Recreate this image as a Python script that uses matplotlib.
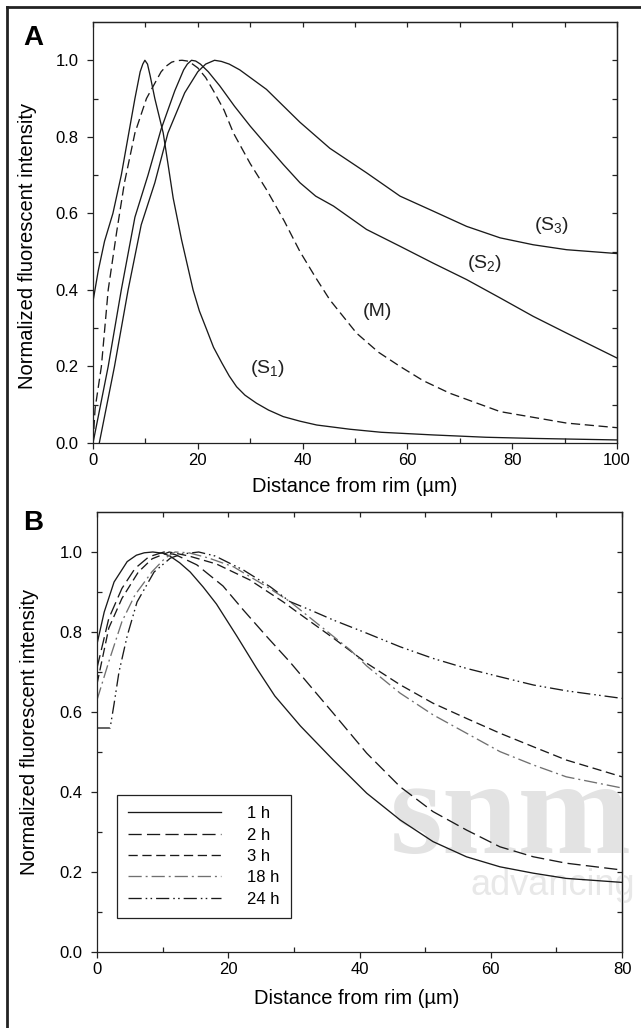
import matplotlib
matplotlib.use('Agg')
import matplotlib.pyplot as plt
from matplotlib.ticker import MultipleLocator, FixedLocator, FormatStrFormatter
from matplotlib.lines import Line2D

plt.rcParams['font.family'] = ['Liberation Sans', 'DejaVu Sans']
plt.rcParams['mathtext.fontset'] = 'custom'
plt.rcParams['mathtext.rm'] = 'Liberation Sans'

# ---------------- Panel A data ----------------
s1_x = [0, 1, 2.2, 3.8, 5.4, 6.7, 8.0, 9.0, 9.5, 9.9, 10.4, 10.9, 11.8, 13.4, 14.3, 15.3, 16.9,
        19.1, 20.3, 21.7, 23, 24.6, 26, 27.4, 29, 31.2, 33.5, 36.3, 39.5, 42.7, 49, 55, 65, 75, 84, 92, 100]
s1_y = [0.37, 0.45, 0.527, 0.60, 0.70, 0.80, 0.90, 0.97, 0.99, 1.0, 0.99, 0.96, 0.90, 0.81, 0.73, 0.64, 0.531,
        0.40, 0.345, 0.296, 0.25, 0.209, 0.175, 0.147, 0.125, 0.104, 0.086, 0.069, 0.057, 0.047, 0.036, 0.028,
        0.021, 0.015, 0.012, 0.01, 0.008]

m_x = [0, 0.4, 1.6, 2.9, 4.5, 6, 8, 10.2, 13, 14, 15, 16, 17, 18, 19, 20, 21.5, 23, 25, 26.8, 30, 33.2,
       36.5, 39.5, 42.5, 45.2, 50.3, 54.5, 58.6, 63, 68.1, 77.7, 90.4, 100]
m_y = [0, 0.09, 0.2, 0.4, 0.55, 0.68, 0.81, 0.9, 0.97, 0.985, 0.995, 0.999, 1.0, 0.998, 0.99, 0.98, 0.955,
       0.92, 0.87, 0.81, 0.73, 0.66, 0.58, 0.5, 0.432, 0.374, 0.287, 0.237, 0.2, 0.163, 0.13, 0.082, 0.052, 0.04]

s2_x = [0, 2.9, 5.4, 8, 10.5, 13, 15.6, 17.3, 18, 18.8, 19.6, 20.5, 22, 24.2, 27, 30, 33, 36.3, 39.5,
        42.5, 45.9, 52.2, 58.6, 64.9, 71.3, 77.7, 84, 90.4, 100]
s2_y = [0, 0.2, 0.4, 0.59, 0.7, 0.82, 0.92, 0.975, 0.99, 1.0, 0.998, 0.99, 0.97, 0.933, 0.88, 0.828,
        0.78, 0.728, 0.68, 0.645, 0.619, 0.558, 0.514, 0.47, 0.427, 0.379, 0.331, 0.287, 0.222]

s3_x = [1.2, 4.1, 6.7, 9.2, 11.8, 14.3, 17.5, 20, 21.5, 23.2, 24.5, 26, 28, 30, 33.1, 36, 39.5, 45.2,
        52.2, 58.6, 64.9, 71.3, 77.7, 84, 90.4, 100]
s3_y = [0, 0.2, 0.4, 0.57, 0.68, 0.81, 0.915, 0.97, 0.99, 1.0, 0.997, 0.99, 0.975, 0.955, 0.924, 0.885,
        0.838, 0.77, 0.706, 0.645, 0.606, 0.566, 0.536, 0.518, 0.505, 0.495]

a_labels = ['(S$\\mathregular{_1}$)', '(M)', '(S$\\mathregular{_2}$)', '(S$\\mathregular{_3}$)']
a_label_pos = [(33.4, 0.195), (54.3, 0.344), (74.8, 0.47), (87.5, 0.567)]

# ---------------- Panel B data ----------------
h1_x = [0, 1.1, 2.6, 4.6, 6, 7.2, 8.5, 10, 11.1, 12.6, 14.2, 16.2, 18.2, 21.3, 24.3, 27.1, 31, 36, 41.1,
        46.2, 51.2, 56.3, 61.4, 66.5, 71.5, 80]
h1_y = [0.77, 0.85, 0.925, 0.976, 0.992, 0.998, 1.0, 0.997, 0.99, 0.973, 0.95, 0.912, 0.87, 0.79, 0.71, 0.64,
        0.565, 0.48, 0.397, 0.33, 0.276, 0.238, 0.213, 0.197, 0.184, 0.174]

h2_x = [0, 1.8, 3.8, 5.8, 7.9, 10.2, 12, 15.2, 19.2, 22.3, 25.9, 29.4, 33, 36, 41.1, 46.2,
        51.2, 56.3, 61.4, 66.5, 71.5, 80]
h2_y = [0.71, 0.834, 0.909, 0.959, 0.988, 1.0, 0.993, 0.968, 0.915, 0.855, 0.788, 0.725, 0.655, 0.597, 0.497, 0.413,
        0.351, 0.305, 0.263, 0.238, 0.222, 0.205]

h3_x = [0, 1.8, 3.8, 6.3, 8.4, 11, 14, 18.2, 23.3, 28.4, 30.9, 36, 41.1, 46.2, 51.2, 56.3,
        61.4, 66.5, 71.5, 80]
h3_y = [0.67, 0.81, 0.884, 0.95, 0.983, 1.0, 0.99, 0.97, 0.93, 0.875, 0.845, 0.785, 0.722, 0.668, 0.622, 0.584,
        0.547, 0.513, 0.48, 0.438]

h18_x = [0, 1.8, 3.8, 5.8, 8.4, 10.4, 11.9, 14, 17, 20.8, 25.9, 29.4, 33.5, 38.6, 41.1, 46.2,
         51.2, 56.3, 61.4, 66.5, 71.5, 80]
h18_y = [0.63, 0.726, 0.826, 0.893, 0.951, 0.985, 1.0, 0.998, 0.985, 0.963, 0.913, 0.876, 0.822, 0.755, 0.715, 0.647,
         0.593, 0.547, 0.501, 0.4675, 0.438, 0.41]

h24_x = [0, 2.0, 2.6, 3.35, 4.6, 6.1, 8.7, 11.2, 13, 15.5, 18, 22.3, 26.4, 29.4, 32.5, 36,
         41.1, 46.2, 51.2, 56.3, 61.4, 66.5, 71.5, 80]
h24_y = [0.56, 0.56, 0.62, 0.70, 0.79, 0.875, 0.95, 0.985, 0.995, 1.0, 0.99, 0.955, 0.913, 0.876, 0.855, 0.83,
         0.797, 0.763, 0.734, 0.709, 0.688, 0.6675, 0.653, 0.634]

b_labels = ['1 h', '2 h', '3 h', '18 h', '24 h']

# ---------------- figure ----------------
W, H = 641, 1028
fig = plt.figure(figsize=(W / 100, H / 100), dpi=100)


def px_rect(l, t, r, b):
    return [l / W, 1 - b / H, (r - l) / W, (b - t) / H]


axA = fig.add_axes(px_rect(93, 22, 617, 443))
axB = fig.add_axes(px_rect(97, 512, 622, 952))

LW = 0.9
TICKFS = 12
AXC = '#222222'


def style_axes(ax, xmax, xmajor, ypad):
    ax.set_xlim(0, xmax)
    ax.set_ylim(0, 1.1)
    ax.xaxis.set_major_locator(MultipleLocator(xmajor))
    ax.xaxis.set_minor_locator(MultipleLocator(xmajor / 2))
    ax.yaxis.set_major_locator(FixedLocator([0, 0.2, 0.4, 0.6, 0.8, 1.0]))
    ax.yaxis.set_minor_locator(FixedLocator([0.1, 0.3, 0.5, 0.7, 0.9]))
    ax.yaxis.set_major_formatter(FormatStrFormatter('%.1f'))
    ax.tick_params(which='major', direction='out', length=4.3, width=LW,
                   labelsize=TICKFS, color=AXC)
    ax.tick_params(axis='x', which='major', pad=3.0)
    ax.tick_params(axis='y', which='major', pad=ypad)
    ax.tick_params(which='minor', direction='in', length=3.5, width=LW, color=AXC)
    for s in ax.spines.values():
        s.set_linewidth(LW)
        s.set_color(AXC)
    top = ax.secondary_xaxis('top')
    top.xaxis.set_major_locator(MultipleLocator(xmajor / 2))
    top.tick_params(direction='in', length=3.5, width=LW, labeltop=False, color=AXC)
    top.set_xticklabels([])
    top.spines['top'].set_linewidth(LW)
    top.spines['top'].set_color(AXC)
    right = ax.secondary_yaxis('right')
    right.yaxis.set_major_locator(FixedLocator([0.1 * i for i in range(1, 11)]))
    right.tick_params(direction='in', length=3.5, width=LW, labelright=False, color=AXC)
    right.set_yticklabels([])
    right.spines['right'].set_linewidth(LW)
    right.spines['right'].set_color(AXC)


style_axes(axA, 100, 20, 6.0)
style_axes(axB, 80, 20, 6.0)

LC = '#1a1a1a'
CW = 0.95
# Panel A curves
axA.plot(s1_x, s1_y, color=LC, lw=CW)
axA.plot(m_x, m_y, color=LC, lw=CW, dashes=(7, 3.5))
axA.plot(s2_x, s2_y, color=LC, lw=CW)
axA.plot(s3_x, s3_y, color=LC, lw=CW)
for lab, (lx, ly) in zip(a_labels, a_label_pos):
    axA.text(lx, ly, lab, ha='center', va='center', fontsize=14, color=AXC)

# Faint watermark (behind curves) in panel B
axB.text(390 / W, 1 - 853 / H, 'snm', transform=fig.transFigure, fontsize=98, fontweight='bold',
         family='Liberation Serif', color='#e3e3e3', ha='left', va='baseline',
         zorder=0.5, clip_on=False)
axB.text(470 / W, 1 - 895 / H, 'advancing', transform=fig.transFigure, fontsize=26,
         family='Liberation Sans', color='#e8e8e8', ha='left', va='baseline',
         zorder=0.5, clip_on=False)

# Panel B curves
styles = [
    dict(color=LC, lw=CW),
    dict(color=LC, lw=CW, dashes=(10, 4)),
    dict(color=LC, lw=CW, dashes=(7, 3.5)),
    dict(color='#707070', lw=CW, dashes=(10, 3, 1.5, 3)),
    dict(color=LC, lw=CW, dashes=(10, 3, 1.2, 2.5, 1.2, 3)),
]
series = [(h1_x, h1_y), (h2_x, h2_y), (h3_x, h3_y), (h18_x, h18_y), (h24_x, h24_y)]
for (xs, ys), st, lab in zip(series, styles, b_labels):
    axB.plot(xs, ys, label=lab, zorder=2, **st)

leg = axB.legend(loc='lower left', bbox_to_anchor=(0.0375, 0.0766), frameon=True, fancybox=False,
                 edgecolor=AXC, framealpha=1, fontsize=12, handlelength=5.56,
                 handletextpad=1.55, labelspacing=0.38, borderpad=0.7, borderaxespad=0)
leg.get_frame().set_linewidth(LW)

# Axis labels
LABFS = 14.5
fig.text(355 / W, 1 - 487 / H, 'Distance from rim (µm)', ha='center', va='center', fontsize=LABFS)
fig.text(357 / W, 1 - 998 / H, 'Distance from rim (µm)', ha='center', va='center', fontsize=LABFS)
fig.text(28 / W, 1 - 246 / H, 'Normalized fluorescent intensity', rotation=90,
         ha='center', va='center', fontsize=LABFS)
fig.text(30 / W, 1 - 732 / H, 'Normalized fluorescent intensity', rotation=90,
         ha='center', va='center', fontsize=LABFS)

# Panel letters
fig.text(33 / W, 1 - 38 / H, 'A', ha='center', va='center', fontsize=20, fontweight='bold')
fig.text(33 / W, 1 - 523 / H, 'B', ha='center', va='center', fontsize=20, fontweight='bold')

# Figure border (left and top edges visible)
fig.add_artist(Line2D([6.5 / W, 6.5 / W], [0, 1 - 6.5 / H], transform=fig.transFigure,
                      color=AXC, lw=2.0))
fig.add_artist(Line2D([6.5 / W, 1], [1 - 6.5 / H, 1 - 6.5 / H], transform=fig.transFigure,
                      color=AXC, lw=2.0))

fig.savefig('out.png', dpi=100, facecolor='white')
